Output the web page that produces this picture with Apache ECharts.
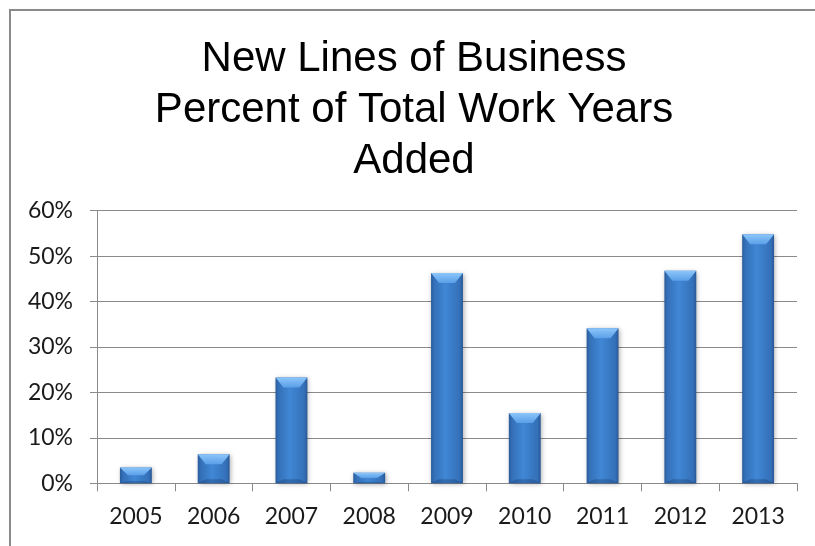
<!DOCTYPE html>
<html>
<head>
<meta charset="utf-8">
<script src="https://cdn.jsdelivr.net/npm/echarts@6/dist/echarts.min.js"></script>
<style>
    html, body { margin: 0; padding: 0; background: #fff; }
    #chart { width: 815px; height: 546px; }
</style>
</head>
<body>
<div id="chart"></div>
<script>
// values, in percent
const years = ['2005', '2006', '2007', '2008', '2009', '2010', '2011', '2012', '2013'];
const percentAdded = [3.5, 6.4, 23.3, 2.3, 46.3, 15.5, 34.1, 46.8, 54.8];

const axisGrey = '#8a8a8a';
const labelFont = 'Lato, "Open Sans", sans-serif';

const myChart = echarts.init(document.getElementById('chart'), null, { renderer: 'canvas' });

// bevelled bar, like the office "3D" column look
function renderBar(params, api) {
    const idx = api.value(0);
    const top = api.coord([idx, api.value(1)]);
    const base = api.coord([idx, 0]);
    const w = api.size([1, 0])[0] * 0.41;
    const x0 = top[0] - w / 2;
    const x1 = top[0] + w / 2;
    const h = base[1] - top[1];
    const bev = Math.min(10, h * 0.5);
    const inset = Math.min(8, w * 0.25);
    const bot = Math.min(4, h * 0.15);

    const bodyFill = new echarts.graphic.LinearGradient(0, 0, 1, 0, [
        { offset: 0, color: '#2a5c9c' },
        { offset: 0.1, color: '#3470b8' },
        { offset: 0.45, color: '#4087d5' },
        { offset: 0.9, color: '#3470b8' },
        { offset: 1, color: '#295897' }
    ]);
    const topFill = new echarts.graphic.LinearGradient(0, 0, 0, 1, [
        { offset: 0, color: '#8cc6fa' },
        { offset: 1, color: '#5b9fe8' }
    ]);

    return {
        type: 'group',
        children: [
            {
                type: 'rect',
                shape: { x: x0, y: top[1], width: w, height: h },
                style: {
                    fill: bodyFill,
                    shadowBlur: 5,
                    shadowColor: 'rgba(0,0,0,0.35)',
                    shadowOffsetX: 1,
                    shadowOffsetY: 1
                }
            },
            {
                type: 'polygon',
                shape: {
                    points: [
                        [x0, top[1]], [x1, top[1]],
                        [x1 - inset, top[1] + bev], [x0 + inset, top[1] + bev]
                    ]
                },
                style: { fill: topFill }
            },
            {
                type: 'polygon',
                shape: {
                    points: [
                        [x0, base[1]], [x1, base[1]],
                        [x1 - inset, base[1] - bot], [x0 + inset, base[1] - bot]
                    ]
                },
                style: { fill: 'rgba(20,50,95,0.3)' }
            }
        ]
    };
}

const option = {
    animation: false,
    backgroundColor: '#fff',
    title: {
        text: 'New Lines of Business\nPercent of Total Work Years\nAdded',
        left: 414,
        top: 34,
        padding: 0,
        textAlign: 'center',
        textStyle: {
            fontFamily: '"Liberation Sans", Arial, sans-serif',
            fontSize: 42,
            fontWeight: 'normal',
            lineHeight: 51,
            color: '#000'
        }
    },
    graphic: [
        {
            type: 'rect',
            shape: { x: 10, y: 10, width: 1000, height: 1000 },
            style: { fill: null, stroke: axisGrey, lineWidth: 2 },
            silent: true
        }
    ],
    grid: {
        left: 97,
        right: 18,
        top: 210.7,
        bottom: 62.7,
        outerBoundsMode: 'none'
    },
    xAxis: {
        type: 'category',
        data: years,
        boundaryGap: true,
        axisLine: { lineStyle: { color: axisGrey, width: 1 } },
        axisTick: { show: true, length: 8, lineStyle: { color: axisGrey } },
        axisLabel: {
            margin: 22,
            color: '#1a1a1a',
            fontFamily: labelFont,
            fontSize: 23
        }
    },
    yAxis: {
        type: 'value',
        min: 0,
        max: 60,
        interval: 10,
        axisLine: { show: true, lineStyle: { color: axisGrey, width: 1 } },
        axisTick: { show: true, length: 7, lineStyle: { color: axisGrey } },
        splitLine: { lineStyle: { color: axisGrey, width: 1 } },
        axisLabel: {
            margin: 24,
            formatter: '{value}%',
            color: '#1a1a1a',
            fontFamily: labelFont,
            fontSize: 23
        }
    },
    series: [
        {
            type: 'custom',
            renderItem: renderBar,
            encode: { x: 0, y: 1 },
            data: years.map((y, i) => [i, percentAdded[i]])
        }
    ]
};

myChart.setOption(option);
</script>
</body>
</html>
